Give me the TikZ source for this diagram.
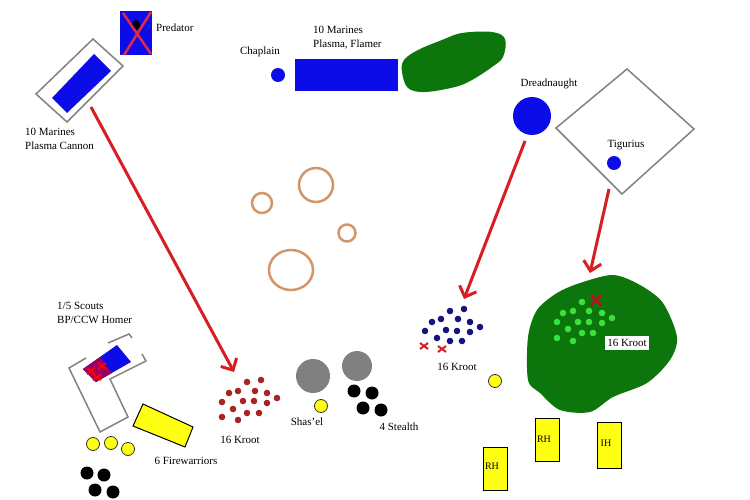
\documentclass[tikz,border=0pt]{standalone}
\usepackage{fontspec}
\setmainfont{Liberation Serif}
\usetikzlibrary{arrows.meta}
\definecolor{mblue}{RGB}{12,12,232}
\definecolor{tgray}{RGB}{130,130,130}
\definecolor{ared}{RGB}{215,30,35}
\definecolor{kred}{RGB}{170,35,35}
\definecolor{knavy}{RGB}{20,20,125}
\definecolor{fgreen}{RGB}{12,118,12}
\definecolor{lgreen}{RGB}{60,225,60}
\definecolor{ring}{RGB}{212,150,105}
\definecolor{ygold}{RGB}{255,255,20}
\definecolor{mgray}{RGB}{128,128,128}
\definecolor{pxred}{RGB}{225,40,70}
\begin{document}
\begin{tikzpicture}[x=1pt,y=-1pt,
  lbl/.style={font=\fontsize{11}{14}\selectfont, inner sep=0pt, align=left},
  boxlbl/.style={font=\fontsize{10}{12}\selectfont, inner sep=0pt},
  attack/.style={draw=ared, line width=3pt, -{Straight Barb[length=9pt,width=18pt]}},
  model/.style={circle, inner sep=0pt, minimum size=#1},
  bluem/.style={model=#1, fill=mblue},
  blackm/.style={model=13pt, fill=black},
  yellowm/.style={model=13pt, fill=ygold, draw=black!80, line width=0.8pt},
  grayblob/.style={model=#1, fill=mgray},
  ruin/.style={draw=tgray, line width=1.5pt},
  crater/.style={draw=ring, line width=2.5pt},
  veh/.style={fill=ygold, draw=black, line width=1pt},
  redx/.style={draw=kred, line width=2.5pt},
]
\useasboundingbox (0,0) rectangle (750,500);
\fill[white] (0,0) rectangle (750,500);

% ---------- top left: predator and marines with plasma cannon
\fill[mblue] (120,11) rectangle (152,55);
\fill[black] (136,25) ellipse (4 and 5);
\draw[draw=pxred, line width=2.5pt] (123,13) -- (151,54) (151,12) -- (124,55);
\node[lbl, anchor=west] (predlbl) at (156,28) {Predator};

\draw[ruin, line width=1.5pt] (93,39) -- (123,66) -- (67,122) -- (36,94) -- cycle;
\fill[mblue] (94,54) -- (111,71) -- (67,113) -- (52,98) -- cycle;
\node[lbl, anchor=north west] (pclbl) at (25,128) {10 Marines\\Plasma Cannon};

% ---------- chaplain and marines
\node[bluem=14pt] (chaplain) at (278,75) {};
\node[lbl] (chaplbl) at (260,52) {Chaplain};
\fill[mblue] (295,59) rectangle (398,91);
\node[lbl, anchor=north west] (pflbl) at (313,26) {10 Marines\\Plasma, Flamer};
\fill[fgreen] plot[smooth cycle, tension=0.6] coordinates {(402,72) (404,60) (418,50) (442,40) (462,33) (492,32) (505,39) (503,57) (492,67) (472,80) (455,87) (425,92) (408,88)};

% ---------- dreadnaught and tigurius
\node[bluem=38pt] (dread) at (532,116) {};
\node[lbl] (dreadlbl) at (549,84) {Dreadnaught};
\draw[ruin] (627,69) -- (694,129) -- (622,194) -- (556,128) -- cycle;
\node[bluem=14pt] (tig) at (614,163) {};
\node[lbl] (tiglbl) at (626,145) {Tigurius};

% ---------- craters
\draw[crater] (262,203) circle (10);
\draw[crater] (316,185) circle (17);
\draw[crater] (347,233) circle (8.5);
\draw[crater] (291,270) ellipse (22 and 20);

% ---------- left kroot
\foreach \p in {(247,382),(261,380),(229,393),(238,391),(255,391),(267,393),(222,402),(243,401),(254,401),(267,403),(277,398),(233,409),(247,413),(259,413),(222,417),(238,420)}
  \fill[kred] \p circle (3.3);
\node[lbl] (k1lbl) at (240,440) {16 Kroot};

% ---------- shas'el and stealth
\node[grayblob=34pt] (g1) at (313,376) {};
\node[grayblob=30pt] (g2) at (357,366) {};
\node[yellowm] (shasel) at (321,406) {};
\node[lbl] (shaslbl) at (307,422) {Shas'el};
\foreach \p/\n in {(354,391)/s1,(372,393)/s2,(363,408)/s3,(381,410)/s4}
  \node[blackm] (\n) at \p {};
\node[lbl] (stlbl) at (399,427) {4 Stealth};

% ---------- right blue kroot
\foreach \p in {(450,311),(464,309),(432,322),(441,319),(458,319),(470,322),(425,331),(446,330),(457,331),(470,332),(480,327),(437,338),(450,341),(462,341)}
  \fill[knavy] \p circle (3.3);
\foreach \c in {(424,346),(442,349)}
  \draw[draw=ared, line width=2pt] \c ++(-4,-3) -- ++(8,6) \c ++(4,-3) -- ++(-8,6);
\node[lbl] (k2lbl) at (457,367) {16 Kroot};
\node[yellowm] (yel) at (495,381) {};

% ---------- big forest with kroot
\fill[fgreen] plot[smooth cycle] coordinates {(528,380) (528,337) (537,310) (557,293) (580,283) (613,275) (640,285) (663,303) (677,337) (670,360) (647,383) (613,397) (590,412) (560,410) (540,393)};
\foreach \p in {(582,302),(563,313),(573,311),(589,311),(602,313),(612,318),(557,322),(578,322),(589,322),(602,323),(568,329),(582,333),(593,333),(557,338),(573,341)}
  \fill[lgreen] \p circle (3.3);
\draw[draw=ared!80!black, line width=3pt] (591,295) -- (601,305) (601,295) -- (591,305);
\node[lbl, fill=white, inner xsep=2pt, inner ysep=3pt] (k3lbl) at (627,343) {16 Kroot};

% ---------- scouts
\node[lbl, anchor=north west] (sclbl) at (57,302) {1/5 Scouts\\BP/CCW Homer};
\draw[ruin] (86,358) -- (69,368) -- (100,432) -- (128,417) -- (110,379) -- (146,361) -- (142,354);
\draw[ruin] (108,343) -- (129,334) -- (132,338);
\fill[mblue] (83,369) -- (117,345) -- (131,362) -- (96,382) -- cycle;
\fill[red!60!blue] (83,369) -- (100,357) -- (112,373) -- (96,382) -- cycle;
\foreach \c in {(91,371),(102,366),(97,377)}
  \draw[draw=red, line width=2pt] \c ++(-4,-3) -- ++(8,6) \c ++(4,-3) -- ++(-8,6);

% ---------- firewarriors
\draw[veh] (143,404) -- (193,427) -- (185,447) -- (133,426) -- cycle;
\node[lbl] (fwlbl) at (186,461) {6 Firewarriors};
\foreach \p/\n in {(93,444)/f1,(111,443)/f2,(128,449)/f3}
  \node[yellowm] (\n) at \p {};
\foreach \p/\n in {(87,473)/b1,(104,475)/b2,(95,490)/b3,(113,492)/b4}
  \node[blackm] (\n) at \p {};

% ---------- hammerheads
\draw[veh] (483,447) rectangle (507,490);
\node[boxlbl] (rh1) at (492,466) {RH};
\draw[veh] (535,418) rectangle (559,461);
\node[boxlbl] (rh2) at (544,439) {RH};
\draw[veh] (597,422) rectangle (621,468);
\node[boxlbl] (ih) at (606,443) {IH};

% ---------- attack arrows
\coordinate (pcstart) at (91,107);
\coordinate (k1tgt) at (234,372);
\coordinate (drstart) at (525,141);
\coordinate (k2tgt) at (464,299);
\coordinate (tigstart) at (609,189);
\coordinate (k3tgt) at (590,273);
\draw[attack] (pcstart) -- (k1tgt);
\draw[attack] (drstart) -- (k2tgt);
\draw[attack] (tigstart) -- (k3tgt);
\end{tikzpicture}
\end{document}
